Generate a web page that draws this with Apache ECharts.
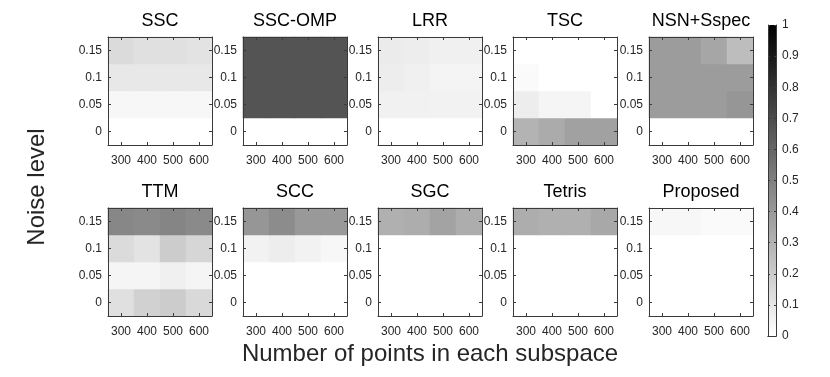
<!DOCTYPE html>
<html>
<head>
<meta charset="utf-8">
<script src="https://cdn.jsdelivr.net/npm/echarts@6/dist/echarts.min.js"></script>
<style>
  html, body { margin: 0; padding: 0; background: #fff; }
  #chart { width: 830px; height: 377px; }
</style>
</head>
<body>
<div id="chart"></div>
<script>
// categories
const xLabels = ['300', '400', '500', '600']
const yLabels = ['0', '0.05', '0.1', '0.15']
const methods = ['SSC', 'SSC-OMP', 'LRR', 'TSC', 'NSN+Sspec', 'TTM', 'SCC', 'SGC', 'Tetris', 'Proposed']

// error rates, rows = noise level 0, 0.05, 0.1, 0.15 ; cols = 300..600 points
const SSC = [
  [0, 0, 0, 0],
  [0.03, 0.03, 0.03, 0.03],
  [0.09, 0.09, 0.09, 0.09],
  [0.14, 0.12, 0.12, 0.11]
]
const SSC_OMP = [
  [0, 0, 0, 0],
  [0.67, 0.67, 0.67, 0.67],
  [0.67, 0.67, 0.67, 0.67],
  [0.67, 0.67, 0.67, 0.67]
]
const LRR = [
  [0, 0, 0, 0],
  [0.055, 0.055, 0.05, 0.05],
  [0.07, 0.06, 0.045, 0.045],
  [0.08, 0.07, 0.06, 0.06]
]
const TSC = [
  [0.3, 0.33, 0.37, 0.37],
  [0.07, 0.04, 0.04, 0],
  [0.02, 0, 0, 0],
  [0, 0, 0, 0]
]
const NSN = [
  [0, 0, 0, 0],
  [0.39, 0.39, 0.39, 0.41],
  [0.39, 0.39, 0.39, 0.39],
  [0.39, 0.39, 0.35, 0.26]
]
const TTM = [
  [0.12, 0.18, 0.2, 0.15],
  [0.04, 0.04, 0.06, 0.04],
  [0.14, 0.11, 0.2, 0.16],
  [0.47, 0.46, 0.48, 0.46]
]
const SCC = [
  [0, 0, 0, 0],
  [0, 0, 0, 0],
  [0.05, 0.07, 0.05, 0.03],
  [0.41, 0.45, 0.4, 0.4]
]
const SGC = [
  [0, 0, 0, 0],
  [0, 0, 0, 0],
  [0, 0, 0, 0],
  [0.31, 0.32, 0.36, 0.32]
]
const Tetris = [
  [0, 0, 0, 0],
  [0, 0, 0, 0],
  [0, 0, 0, 0],
  [0.32, 0.31, 0.31, 0.34]
]
const Proposed = [
  [0, 0, 0, 0],
  [0, 0, 0, 0],
  [0, 0, 0, 0],
  [0.03, 0.03, 0.02, 0.02]
]
const allData = [SSC, SSC_OMP, LRR, TSC, NSN, TTM, SCC, SGC, Tetris, Proposed]

// colorbar ticks
const cbarMin = 0
const cbarMax = 1
const cbarStep = 0.1

const FONT = 'Liberation Sans'
const INK = '#262626'
const FRAME = '#3a3a3a'

// whole-pixel cell sizes so the heatmap cells don't leave seams
const colLeft = [108, 243, 378, 513, 649]
const rowTop = [37, 208]
const plotW = 104
const plotH = 108

const chart = echarts.init(document.getElementById('chart'), null, { renderer: 'canvas' })

const grids = []
const xAxes = []
const yAxes = []
const series = []
const graphics = []

methods.forEach((name, i) => {
  const r = Math.floor(i / 5)
  const c = i % 5
  grids.push({ left: colLeft[c], top: rowTop[r], width: plotW, height: plotH })

  const tick = { show: true, inside: true, alignWithLabel: true, interval: 0, length: 3, lineStyle: { color: FRAME } }
  const line = { show: true, lineStyle: { color: FRAME, width: 1 } }
  // bottom + top x axes (top only for the box and ticks)
  xAxes.push({
    type: 'category', gridIndex: i, data: xLabels, position: 'bottom', z: 10,
    axisLine: line, axisTick: tick,
    axisLabel: { fontFamily: FONT, fontSize: 12, color: INK, margin: 10, interval: 0, hideOverlap: false },
    splitLine: { show: false }
  })
  xAxes.push({
    type: 'category', gridIndex: i, data: xLabels, position: 'top', z: 10,
    axisLine: line, axisTick: tick, axisLabel: { show: false }, splitLine: { show: false }
  })
  yAxes.push({
    type: 'category', gridIndex: i, data: yLabels, position: 'left', z: 10,
    axisLine: line, axisTick: tick,
    axisLabel: { fontFamily: FONT, fontSize: 12, color: INK, margin: 6, interval: 0 },
    splitLine: { show: false }
  })
  yAxes.push({
    type: 'category', gridIndex: i, data: yLabels, position: 'right', z: 10,
    axisLine: line, axisTick: tick, axisLabel: { show: false }, splitLine: { show: false }
  })

  const cells = []
  allData[i].forEach((row, yi) => {
    row.forEach((v, xi) => cells.push([xi, yi, v]))
  })
  series.push({
    name: name,
    type: 'heatmap',
    xAxisIndex: i * 2,
    yAxisIndex: i * 2,
    data: cells,
    itemStyle: { borderWidth: 0 },
    emphasis: { disabled: true },
    silent: true,
    z: 1
  })

  // subplot title
  graphics.push({
    type: 'text',
    x: colLeft[c] + plotW / 2,
    y: rowTop[r] - 16,
    style: {
      text: name, fontFamily: FONT, fontSize: 18, fill: '#000',
      textAlign: 'center', textVerticalAlign: 'middle'
    }
  })
})

// colorbar as a bar in its own grid with a value axis
const cbIdx = methods.length
const cbLine = { show: true, lineStyle: { color: FRAME } }
grids.push({ left: 768, top: 25, width: 8, height: 311 })
xAxes.push({
  type: 'category', gridIndex: cbIdx, data: ['cb'], position: 'bottom', z: 10,
  axisLine: cbLine, axisTick: { show: false }, axisLabel: { show: false }
})
xAxes.push({
  type: 'category', gridIndex: cbIdx, data: ['cb'], position: 'top', z: 10,
  axisLine: cbLine, axisTick: { show: false }, axisLabel: { show: false }
})
yAxes.push({
  type: 'value', gridIndex: cbIdx, min: cbarMin, max: cbarMax, interval: cbarStep, position: 'right', z: 10,
  axisLine: cbLine,
  axisTick: { show: true, inside: true, length: 2, lineStyle: { color: FRAME } },
  axisLabel: { fontFamily: FONT, fontSize: 12, color: INK, margin: 6 },
  splitLine: { show: false }
})
yAxes.push({
  type: 'value', gridIndex: cbIdx, min: cbarMin, max: cbarMax, interval: cbarStep, position: 'left', z: 10,
  axisLine: cbLine,
  axisTick: { show: true, inside: true, length: 2, lineStyle: { color: FRAME } },
  axisLabel: { show: false }, splitLine: { show: false }
})
series.push({
  type: 'bar',
  xAxisIndex: cbIdx * 2,
  yAxisIndex: cbIdx * 2,
  data: [cbarMax],
  barWidth: '100%',
  silent: true,
  z: 1,
  itemStyle: {
    color: {
      type: 'linear', x: 0, y: 0, x2: 0, y2: 1,
      colorStops: [{ offset: 0, color: '#000000' }, { offset: 1, color: '#ffffff' }]
    }
  }
})

// overall axis titles
graphics.push({
  type: 'text', x: 430, y: 354,
  style: {
    text: 'Number of points in each subspace', fontFamily: FONT, fontSize: 24, fill: INK,
    textAlign: 'center', textVerticalAlign: 'middle'
  }
})
graphics.push({
  type: 'text', x: 37, y: 187, rotation: Math.PI / 2,
  style: {
    text: 'Noise level', fontFamily: FONT, fontSize: 24, fill: INK,
    textAlign: 'center', textVerticalAlign: 'middle'
  }
})

chart.setOption({
  animation: false,
  backgroundColor: '#fff',
  grid: grids,
  xAxis: xAxes,
  yAxis: yAxes,
  visualMap: {
    type: 'continuous',
    show: false,
    min: cbarMin,
    max: cbarMax,
    seriesIndex: methods.map((m, i) => i),
    inRange: { color: ['#ffffff', '#000000'] }
  },
  graphic: graphics,
  series: series
})
</script>
</body>
</html>
